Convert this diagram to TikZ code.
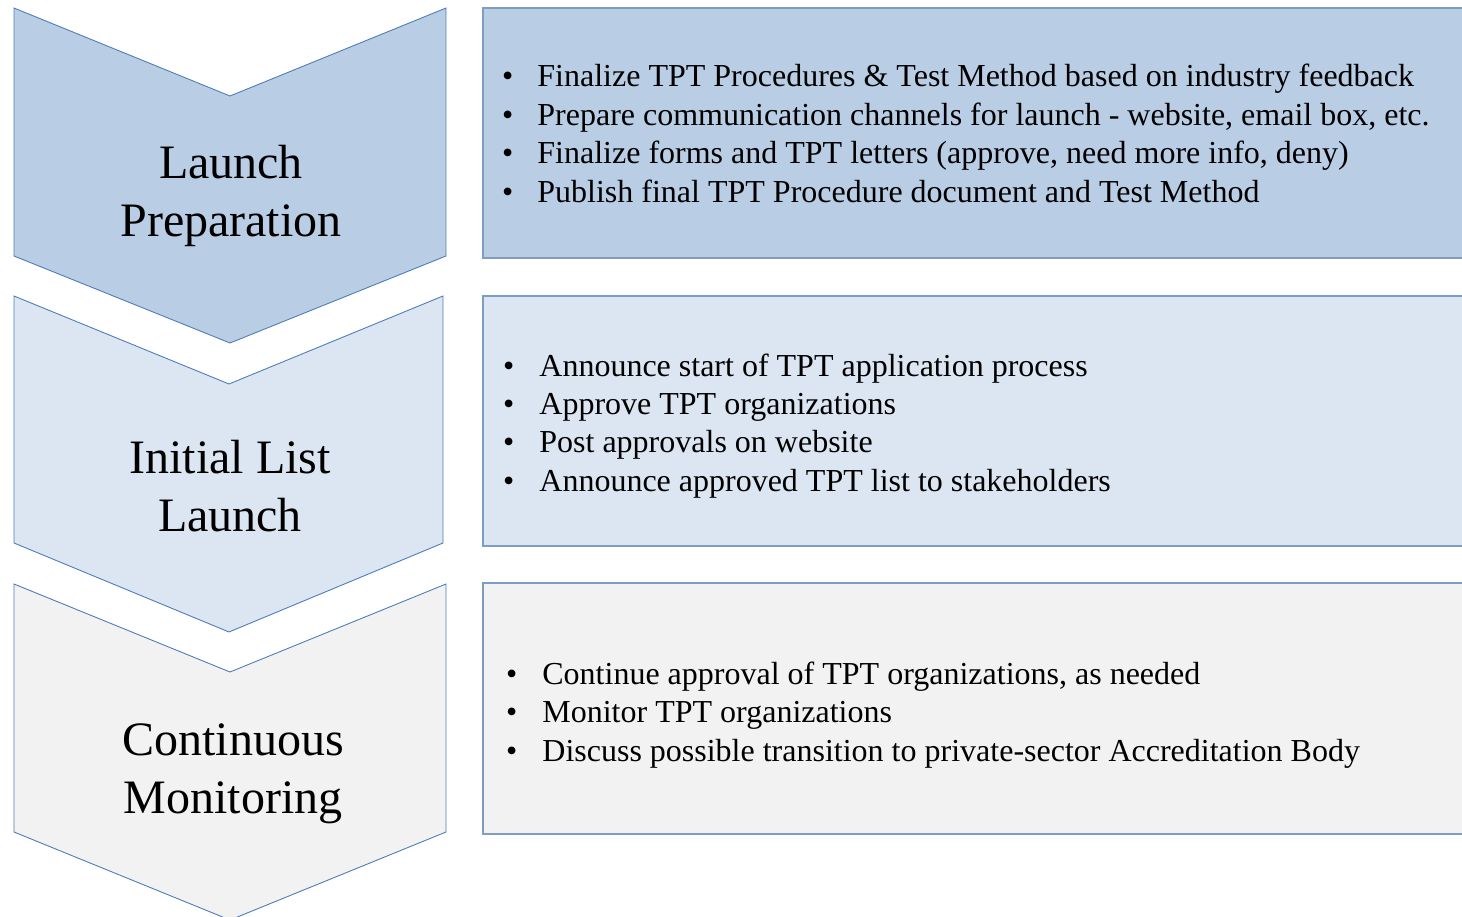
\documentclass[tikz,border=0pt]{standalone}
\usepackage{fontspec}
\setmainfont{Liberation Serif}
\definecolor{darkfill}{HTML}{B9CDE5}
\definecolor{midfill}{HTML}{DCE6F2}
\definecolor{greyfill}{HTML}{F2F2F2}
\definecolor{chevedge}{HTML}{4F7DB8}
\definecolor{boxedge}{HTML}{7F9CC4}
\tikzset{
  chev/.style={draw=chevedge, line width=0.9pt, line join=miter},
  itembox/.style={draw=boxedge, line width=1.2pt},
  stage/.style={font=\fontsize{48}{58}\selectfont, align=center, inner sep=0pt},
  items/.style={font=\fontsize{32}{38.5}\selectfont, anchor=base west, inner sep=0pt},
}
\begin{document}
\begin{tikzpicture}[x=1pt,y=-1pt]
    \useasboundingbox (0,0) rectangle (1462,917);
    % chevrons
    \filldraw [chev,fill=darkfill] (14,8) -- (230,96) -- (446,8) -- (446,256) -- (230,343) -- (14,256) -- cycle;
    \filldraw [chev,fill=midfill] (14,296) -- (229,384) -- (443,296) -- (443,543) -- (229,632) -- (14,543) -- cycle;
    \filldraw [chev,fill=greyfill] (14,584) -- (230,672) -- (446,584) -- (446,832) -- (230,920) -- (14,832) -- cycle;
    \node [stage] (prep) at (231,196) {Launch\\Preparation};
    \node [stage] (init) at (230,486) {Initial List\\Launch};
    \node [stage] (cont) at (233,774) {Continuous\\Monitoring};
    % boxes
    \filldraw [itembox,fill=darkfill] (483,8) rectangle (1475,258);
    \filldraw [itembox,fill=midfill] (483,296) rectangle (1475,546);
    \filldraw [itembox,fill=greyfill] (483,583) rectangle (1475,834);
    \node [items] (prepitems) at (502,87) {\begin{tabular}[t]{@{}l@{\hspace{24pt}}l@{}}
      \textbullet & Finalize TPT Procedures \& Test Method based on industry feedback\\
      \textbullet & Prepare communication channels for launch - website, email box, etc.\\
      \textbullet & Finalize forms and TPT letters (approve, need more info, deny)\\
      \textbullet & Publish final TPT Procedure document and Test Method
    \end{tabular}};
    \node [items] (inititems) at (503,376) {\begin{tabular}[t]{@{}l@{\hspace{25pt}}l@{}}
      \textbullet & Announce start of TPT application process\\
      \textbullet & Approve TPT organizations\\
      \textbullet & Post approvals on website\\
      \textbullet & Announce approved TPT list to stakeholders
    \end{tabular}};
    \node [items] (contitems) at (506,684) {\begin{tabular}[t]{@{}l@{\hspace{25pt}}l@{}}
      \textbullet & Continue approval of TPT organizations, as needed\\
      \textbullet & Monitor TPT organizations\\
      \textbullet & Discuss possible transition to private-sector Accreditation Body
    \end{tabular}};
\end{tikzpicture}
\end{document}
